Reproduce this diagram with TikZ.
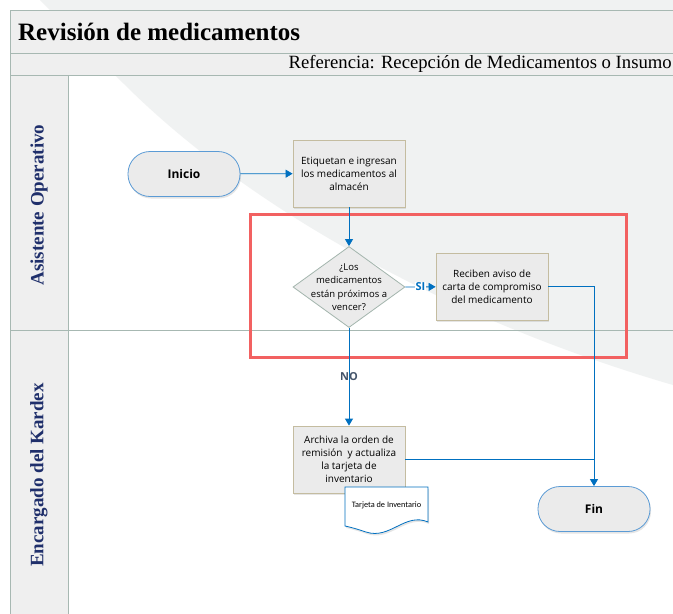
\documentclass[tikz,border=0pt]{standalone}
\usepackage{fontspec}
\setmainfont{Liberation Serif}
\newfontfamily\flowfont{Open Sans}
\newfontfamily\docfont{Carlito}
\usetikzlibrary{shapes.geometric,shadows,arrows.meta}

\definecolor{flowblue}{RGB}{0,112,192}
\definecolor{termblue}{RGB}{91,155,213}
\definecolor{boxfill}{RGB}{235,235,235}
\definecolor{boxline}{RGB}{196,188,160}
\definecolor{diamline}{RGB}{163,181,173}
\definecolor{laneline}{RGB}{167,184,178}
\definecolor{lanefill}{RGB}{239,239,239}
\definecolor{bggray}{RGB}{240,242,242}
\definecolor{lanenavy}{RGB}{31,47,107}
\definecolor{noslate}{RGB}{68,84,106}
\definecolor{markred}{RGB}{242,97,97}

\begin{document}
\begin{tikzpicture}[x=1pt, y=-1pt]
            % Define styles
            \tikzstyle{terminal} = [rectangle, rounded corners=22pt, minimum width=112pt, minimum height=45pt, draw=termblue, line width=0.8pt, fill=boxfill, font=\flowfont\fontsize{12}{14}\selectfont\bfseries, drop shadow={opacity=0.2, shadow xshift=1pt, shadow yshift=-2pt}]
            \tikzstyle{process} = [rectangle, minimum width=112pt, minimum height=67pt, align=center, draw=boxline, line width=0.8pt, fill=boxfill, font=\flowfont\fontsize{10}{13}\selectfont, drop shadow={opacity=0.2, shadow xshift=1pt, shadow yshift=-2pt}]
            \tikzstyle{decision} = [diamond, minimum width=112pt, minimum height=81pt, inner sep=0pt, draw=diamline, line width=0.8pt, fill=boxfill]
            \tikzstyle{decisiontext} = [align=center, font=\flowfont\fontsize{9.5}{13.5}\selectfont]
            \tikzstyle{lanetext} = [rotate=90, font=\fontsize{19}{21}\selectfont\bfseries, text=lanenavy]
            \tikzstyle{arrow} = [flowblue, line width=0.8pt, -{Triangle[length=7pt, width=8pt]}]
            \tikzstyle{line} = [flowblue, line width=0.8pt]

            % Background and frame
            \useasboundingbox (0,0) rectangle (673,614);
            \fill [white] (0,0) rectangle (673,614);
            \fill [bggray] (40,0) -- (673,0) -- (673,385) .. controls (450,320) and (250,210) .. (123,83) -- cycle;
            \draw [laneline, line width=0.8pt, fill=lanefill] (10,10) rectangle (690,53);
            \draw [laneline, line width=0.8pt, fill=lanefill] (10,53) rectangle (690,75);
            \draw [laneline, line width=0.8pt, fill=lanefill] (10,75) rectangle (68,330);
            \draw [laneline, line width=0.8pt, fill=lanefill] (10,330) rectangle (68,630);
            \draw [laneline, line width=0.8pt] (68,330) -- (690,330);

            % Titles
            \node (title) [anchor=west, inner sep=0pt, font=\fontsize{25}{27}\selectfont\bfseries] at (18,32) {Revisión de medicamentos};
            \node (ref) [anchor=east, inner sep=0pt, font=\fontsize{18.7}{21}\selectfont] at (672,64) {Referencia: Recepción de Medicamentos o Insumo};
            \node (lane1) [lanetext] at (39,205) {Asistente Operativo};
            \node (lane2) [lanetext] at (39,475) {Encargado del Kardex};

            % Flow
            \node (start) [terminal] at (184,174) {Inicio};
            \node (label) [process] at (349,173.5) {Etiquetan e ingresan\\los medicamentos al\\almacén};
            \node (check) [decision, label={[decisiontext]center:{¿Los\\medicamentos\\están próximos a\\vencer?}}] at (349,287) {};
            \node (notice) [process] at (492,286.5) {Reciben aviso de\\carta de compromiso\\del medicamento};
            \node (archive) [process] at (349,459.5) {Archiva la orden de\\remisión \ y actualiza\\la tarjeta de\\inventario};
            \node (finish) [terminal] at (594,509) {Fin};

            % Document
            \draw [flowblue, line width=0.8pt, fill=white, drop shadow={opacity=0.2, shadow xshift=1pt, shadow yshift=-2pt}] (345,487) -- (428,487) -- (428,522) .. controls (405,512) and (390,540) .. (366,532) .. controls (357,529) and (350,527) .. (345,526) -- cycle;
            \node (card) [font=\docfont\fontsize{8.3}{9}\selectfont] at (386.5,505) {Tarjeta de Inventario};

            % Highlight
            \draw [markred, line width=3pt] (250,214) rectangle (626,357);

            % Arrows
            \draw [arrow] (start) -- (label);
            \draw [arrow] (label) -- (check.north);
            \draw [arrow] (check.east) -- node [fill=white, inner sep=1pt, text=flowblue, font=\flowfont\fontsize{11}{12}\selectfont\bfseries] {SI} (notice);
            \draw [arrow] (notice.east) -| (finish.north);
            \draw [arrow] (check.south) -- node [text=noslate, font=\flowfont\fontsize{11}{12}\selectfont\bfseries] {NO} (archive.north);
            \draw [line] (archive.east) -- (archive.east -| finish.north);
        \end{tikzpicture}
\end{document}
